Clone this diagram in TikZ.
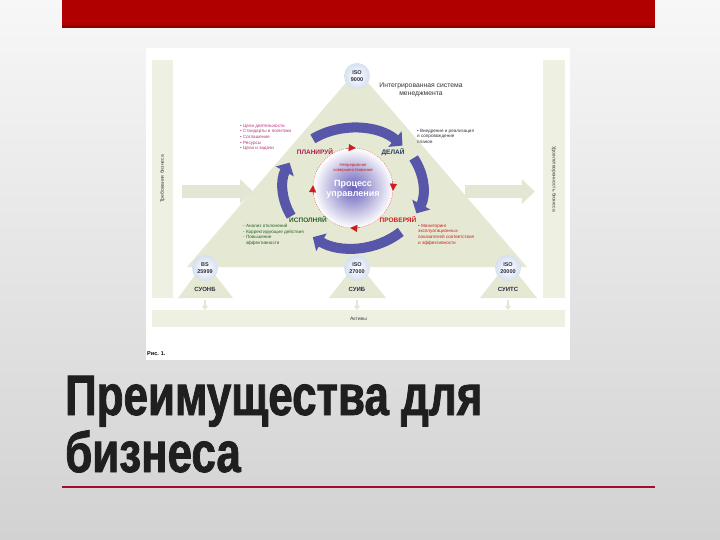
\documentclass[tikz,border=0pt]{standalone}
\usepackage{fontspec}
\setmainfont{Liberation Sans}
\newfontfamily\titlefont[FakeStretch=0.77,BoldFeatures={FakeBold=1.4}]{Liberation Sans}
\usetikzlibrary{arrows.meta}

\definecolor{bgtop}{RGB}{247,247,247}
\definecolor{bgbot}{RGB}{210,210,210}
\definecolor{slidered}{RGB}{176,0,0}
\definecolor{linered}{RGB}{168,12,40}
\definecolor{paleolive}{RGB}{238,240,225}
\definecolor{trifill}{RGB}{229,233,211}
\definecolor{flowpale}{RGB}{226,231,212}
\definecolor{stdglow}{RGB}{214,224,240}
\definecolor{stdtext}{RGB}{45,45,70}
\definecolor{cycleblue}{RGB}{88,86,168}
\definecolor{corepurple}{RGB}{105,98,185}
\definecolor{plancol}{RGB}{170,30,80}
\definecolor{docol}{RGB}{30,60,95}
\definecolor{checkcol}{RGB}{205,30,30}
\definecolor{actcol}{RGB}{40,100,40}
\definecolor{pinktext}{RGB}{185,50,125}

\begin{document}
\begin{tikzpicture}[x=1pt,y=-1pt,
    bar/.style={fill=paleolive,draw=none,inner sep=0pt,
                font=\fontsize{5}{6}\selectfont,text=black!75},
    std/.style={circle,minimum size=26pt,inner sep=0pt,inner color=white,
                outer color=stdglow,align=center,text=stdtext,
                font=\fontsize{5.5}{6.5}\selectfont\bfseries},
    sys/.style={font=\fontsize{6}{7}\selectfont\bfseries,text=stdtext},
    phase/.style={font=\fontsize{6.5}{7}\selectfont\bfseries},
    notes/.style={align=left,anchor=north west,inner sep=0pt,
                  font=\fontsize{4.6}{5.6}\selectfont},
    cyc/.style={line width=10pt,draw=cycleblue,
                -{Triangle[length=10pt,width=20pt]}},
    bigflow/.style={line width=13pt,draw=flowpale,
                -{Triangle[length=13pt,width=24pt]}},
    smallflow/.style={line width=2pt,draw=flowpale,
                -{Triangle[length=4pt,width=6pt]}},
    redtip/.style={draw=checkcol,line width=0.3pt,
                -{Triangle[length=7pt,width=7pt]}},
    title/.style={font=\titlefont\bfseries\fontsize{57}{60}\selectfont,
                  text=black!88,inner sep=0pt}]
  \useasboundingbox (0,0) rectangle (720,540);
  \shade[top color=bgtop,bottom color=bgbot] (0,0) rectangle (720,540);

  % slide header
  \fill[slidered] (62,0) rectangle (655,28);
  \fill[slidered!80!black] (62,25) rectangle (655,28);

  % figure
  \fill[white] (146,48) rectangle (570,360);
  \node[bar,rotate=90,minimum width=238pt,minimum height=21pt]
        (req) at (162.5,179) {Требования бизнеса};
  \node[bar,rotate=-90,minimum width=238pt,minimum height=22pt]
        (sat) at (554,179) {Удовлетворенность бизнеса};
  \node[bar,minimum width=413pt,minimum height=17pt]
        (assets) at (358.5,318.5) {Активы};

  \fill[trifill] (357,70) -- (187,267) -- (527,267) -- cycle;
  \fill[trifill] (205,262) -- (178,298) -- (233,298) -- cycle;
  \fill[trifill] (357,262) -- (329,298) -- (386,298) -- cycle;
  \fill[trifill] (508,262) -- (480,298) -- (537,298) -- cycle;

  \coordinate (inL) at (253,191.5);
  \coordinate (outR) at (465,191.5);
  \draw[bigflow,shorten <=9pt] (req.south |- inL) -- (inL);
  \draw[bigflow,shorten >=8pt] (outR) -- (sat.south |- outR);

  \node[std] (iso9) at (357,76) {ISO\\9000};
  \node[std] (bs) at (205,268) {BS\\25999};
  \node[std] (iso27) at (357,268) {ISO\\27000};
  \node[std] (iso20) at (508,268) {ISO\\20000};
  \node[sys] (suonb) at (205,289) {СУОНБ};
  \node[sys] (suib) at (357,289) {СУИБ};
  \node[sys] (suits) at (508,289) {СУИТС};
  \draw[smallflow] (suonb |- 0,300) -- (suonb |- assets.north);
  \draw[smallflow] (suib |- 0,300) -- (suib |- assets.north);
  \draw[smallflow] (suits |- 0,300) -- (suits |- assets.north);

  \node[align=center,text=black!80,font=\fontsize{6.8}{7.6}\selectfont]
        (ims) at (421,90) {Интегрированная система\\менеджмента};

  % management cycle
  \node[circle,minimum size=80pt,inner sep=0pt,inner color=corepurple,
        outer color=white,draw=checkcol!70,dash pattern=on 1pt off 1pt,
        line width=0.4pt,align=center,text=white,
        font=\fontsize{9}{10}\selectfont\bfseries] (core) at (353,188)
        {\\[-2pt]Процесс\\управления};
  \node[align=center,text=checkcol,font=\fontsize{4.2}{4.8}\selectfont]
        (impr) at (353,168) {Непрерывное\\совершенствование};
  \foreach \s/\e in {-100/-86,-10/4,80/94,170/184}
    \draw[redtip] (core.center) ++(\s:40) arc[start angle=\s,end angle=\e,radius=40];

  \draw[cyc] (core.center) ++(-125:70 and 60)
        arc[start angle=-125,end angle=-45,x radius=70,y radius=60];
  \draw[cyc] (core.center) ++(-30:70 and 60)
        arc[start angle=-30,end angle=25,x radius=70,y radius=60];
  \draw[cyc] (core.center) ++(47:70 and 60)
        arc[start angle=47,end angle=125,x radius=70,y radius=60];
  \draw[cyc] (core.center) ++(152:70 and 60)
        arc[start angle=152,end angle=205,x radius=70,y radius=60];

  \node[phase,text=plancol] (plan) at (315,152) {ПЛАНИРУЙ};
  \node[phase,text=docol] (do) at (393,152) {ДЕЛАЙ};
  \node[phase,text=actcol] (act) at (308,220) {ИСПОЛНЯЙ};
  \node[phase,text=checkcol] (check) at (398,220) {ПРОВЕРЯЙ};

  \node[notes,text=pinktext] (plannotes) at (240,124)
        {• Цели деятельности\\• Стандарты и политики\\• Соглашения\\• Ресурсы\\• Цели и задачи};
  \node[notes,text=black!80] (donotes) at (417,129)
        {• Внедрение и реализация\\и сопровождение\\планов};
  \node[notes,text=actcol] (actnotes) at (243,224)
        {- Анализ отклонений\\- Корректирующие действия\\- Повышение\\\ \ эффективности};
  \node[notes,text=checkcol] (checknotes) at (418,224)
        {• Мониторинг\\эксплуатационных\\показателей соответствия\\и эффективности};

  \node[anchor=west,inner sep=0pt,font=\fontsize{5.5}{6}\selectfont\bfseries]
        (fig) at (147,354) {Рис. 1.};

  % slide title
  \node[title,anchor=base west] (title1) at (65,415) {Преимущества для};
  \node[title,anchor=base west] (title2) at (65,472) {бизнеса};
  \draw[linered,line width=2.5pt] (62,487) -- (655,487);
\end{tikzpicture}
\end{document}
